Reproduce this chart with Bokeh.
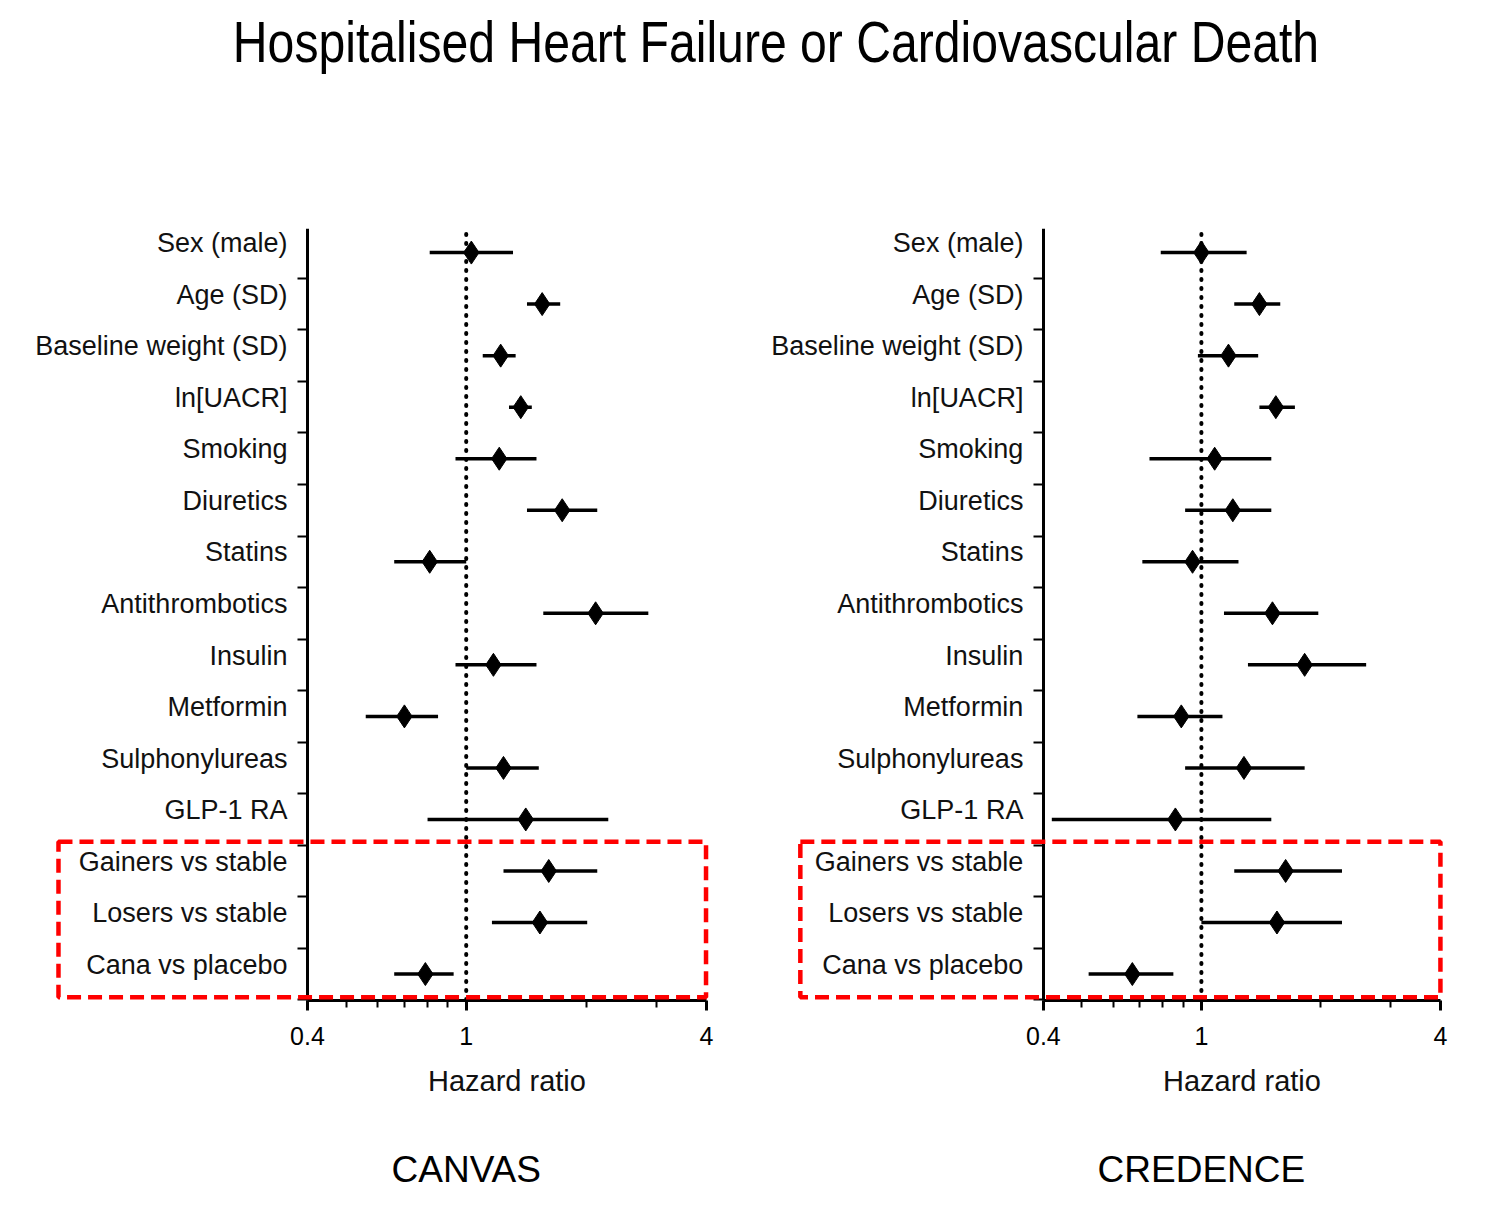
from bokeh.plotting import figure
from bokeh.models import (FixedTicker, NumeralTickFormatter, BoxAnnotation, Label, Div)
from bokeh.layouts import column, row
from bokeh.embed import file_html
from bokeh.resources import INLINE

FONT = "Liberation Sans"

TITLE = "Hospitalised Heart Failure or Cardiovascular Death"
variables = ["Sex (male)", "Age (SD)", "Baseline weight (SD)", "ln[UACR]", "Smoking",
             "Diuretics", "Statins", "Antithrombotics", "Insulin", "Metformin",
             "Sulphonylureas", "GLP-1 RA", "Gainers vs stable", "Losers vs stable",
             "Cana vs placebo"]

canvas_hr = [1.03, 1.55, 1.22, 1.37, 1.21, 1.74, 0.81, 2.11, 1.17, 0.70, 1.24, 1.41, 1.61, 1.53, 0.79]
canvas_lo = [0.81, 1.42, 1.10, 1.28, 0.94, 1.42, 0.66, 1.56, 0.94, 0.56, 1.00, 0.80, 1.24, 1.16, 0.66]
canvas_hi = [1.31, 1.72, 1.33, 1.46, 1.50, 2.13, 1.00, 2.86, 1.50, 0.85, 1.52, 2.27, 2.13, 2.01, 0.93]

credence_hr = [1.00, 1.40, 1.17, 1.54, 1.08, 1.20, 0.95, 1.51, 1.82, 0.89, 1.28, 0.86, 1.63, 1.55, 0.67]
credence_lo = [0.79, 1.21, 0.98, 1.40, 0.74, 0.91, 0.71, 1.14, 1.31, 0.69, 0.91, 0.42, 1.21, 1.00, 0.52]
credence_hi = [1.30, 1.58, 1.39, 1.72, 1.50, 1.50, 1.24, 1.97, 2.60, 1.13, 1.82, 1.50, 2.26, 2.26, 0.85]

x_major_ticks = [0.4, 1, 4]
x_minor_ticks = [0.5, 0.6, 0.7, 0.8, 0.9, 2, 3]
X_LO, X_HI = 0.4, 4          # axis extent
Y_LO, Y_HI = 0.4945, 15.467  # axis extent (rows 1..15)


def make_panel(hr, lo, hi, study, x_range, border_left, border_right, box_lr):
    n = len(variables)
    ys = [n - i for i in range(n)]
    p = figure(width=736, height=1110, x_axis_type="log", x_range=x_range,
               y_range=(-3.433, Y_HI), output_backend="svg", toolbar_location=None,
               min_border_left=border_left, min_border_right=border_right,
               min_border_top=126, min_border_bottom=10)
    p.xgrid.visible = False
    p.ygrid.visible = False
    p.outline_line_color = None
    p.background_fill_color = "white"

    # x axis placed at the bottom of the rows
    xa = p.xaxis[0]
    xa.fixed_location = Y_LO
    xa.ticker = FixedTicker(ticks=x_major_ticks, minor_ticks=x_minor_ticks)
    xa.bounds = (X_LO, X_HI)
    xa.formatter = NumeralTickFormatter(format="0.[0]")
    xa.axis_line_width = 3
    xa.major_tick_line_width = 3
    xa.minor_tick_line_width = 2
    xa.major_tick_out = 10
    xa.major_tick_in = 0
    xa.minor_tick_out = 7
    xa.minor_tick_in = 0
    xa.major_label_standoff = 17
    xa.major_label_text_font = FONT
    xa.major_label_text_font_size = "25px"
    xa.major_label_text_color = "black"

    # y axis at x = 0.4
    ya = p.yaxis[0]
    ya.fixed_location = X_LO
    ya.bounds = (Y_LO, Y_HI)
    label_pos = [y + 0.18 for y in ys]
    ya.ticker = FixedTicker(ticks=label_pos, minor_ticks=[k + 0.5 for k in range(n + 1)])
    ya.major_label_overrides = {lp: name for lp, name in zip(label_pos, variables)}
    ya.axis_line_width = 3
    ya.major_tick_out = 0
    ya.major_tick_in = 0
    ya.minor_tick_out = 10
    ya.minor_tick_in = 0
    ya.minor_tick_line_width = 2
    ya.major_label_standoff = 10
    ya.major_label_text_font = FONT
    ya.major_label_text_font_size = "27px"
    ya.major_label_text_color = "#111111"

    # reference line at HR = 1
    p.segment(x0=[1], x1=[1], y0=[Y_LO], y1=[Y_HI], line_color="black",
              line_width=4, line_dash="1 8", line_cap="round")

    p.segment(x0=lo, x1=hi, y0=ys, y1=ys, line_color="black", line_width=3.5)
    p.scatter(x=hr, y=ys, marker="diamond", size=23, fill_color="black",
              line_color="black")

    p.add_layout(BoxAnnotation(left=box_lr[0], right=box_lr[1], bottom=0.55, top=3.567,
                               fill_color=None, fill_alpha=0, line_color="#ff0000",
                               line_alpha=1.0, line_width=4.5, line_dash="14 7"))

    p.add_layout(Label(x=1.265, y=-1.08, text="Hazard ratio", text_align="center",
                       text_baseline="middle", text_font=FONT,
                       text_font_size="29px", text_color="#111111"))
    p.add_layout(Label(x=1.0, y=-2.79, text=study, text_align="center",
                       text_baseline="middle", text_font=FONT,
                       text_font_size="37px", text_color="black"))
    return p


p1 = make_panel(canvas_hr, canvas_lo, canvas_hi, "CANVAS", (0.0721, 4.19), 10, 22,
                (0.0951, 3.99))
p2 = make_panel(credence_hr, credence_lo, credence_hi, "CREDENCE", (0.0715, 4.34), 10, 18,
                (0.0977, 4.0))

title = Div(text=TITLE, width=1472, height=92,
            styles={"font-size": "58px", "font-family": FONT, "text-align": "center",
                    "line-height": "74px", "color": "black", "width": "1472px",
                    "transform": "translateX(35px) scaleX(0.83)",
                    "transform-origin": "center"})

layout = column(title, row(p1, p2))
open("out.html", "w").write(file_html(layout, INLINE))
